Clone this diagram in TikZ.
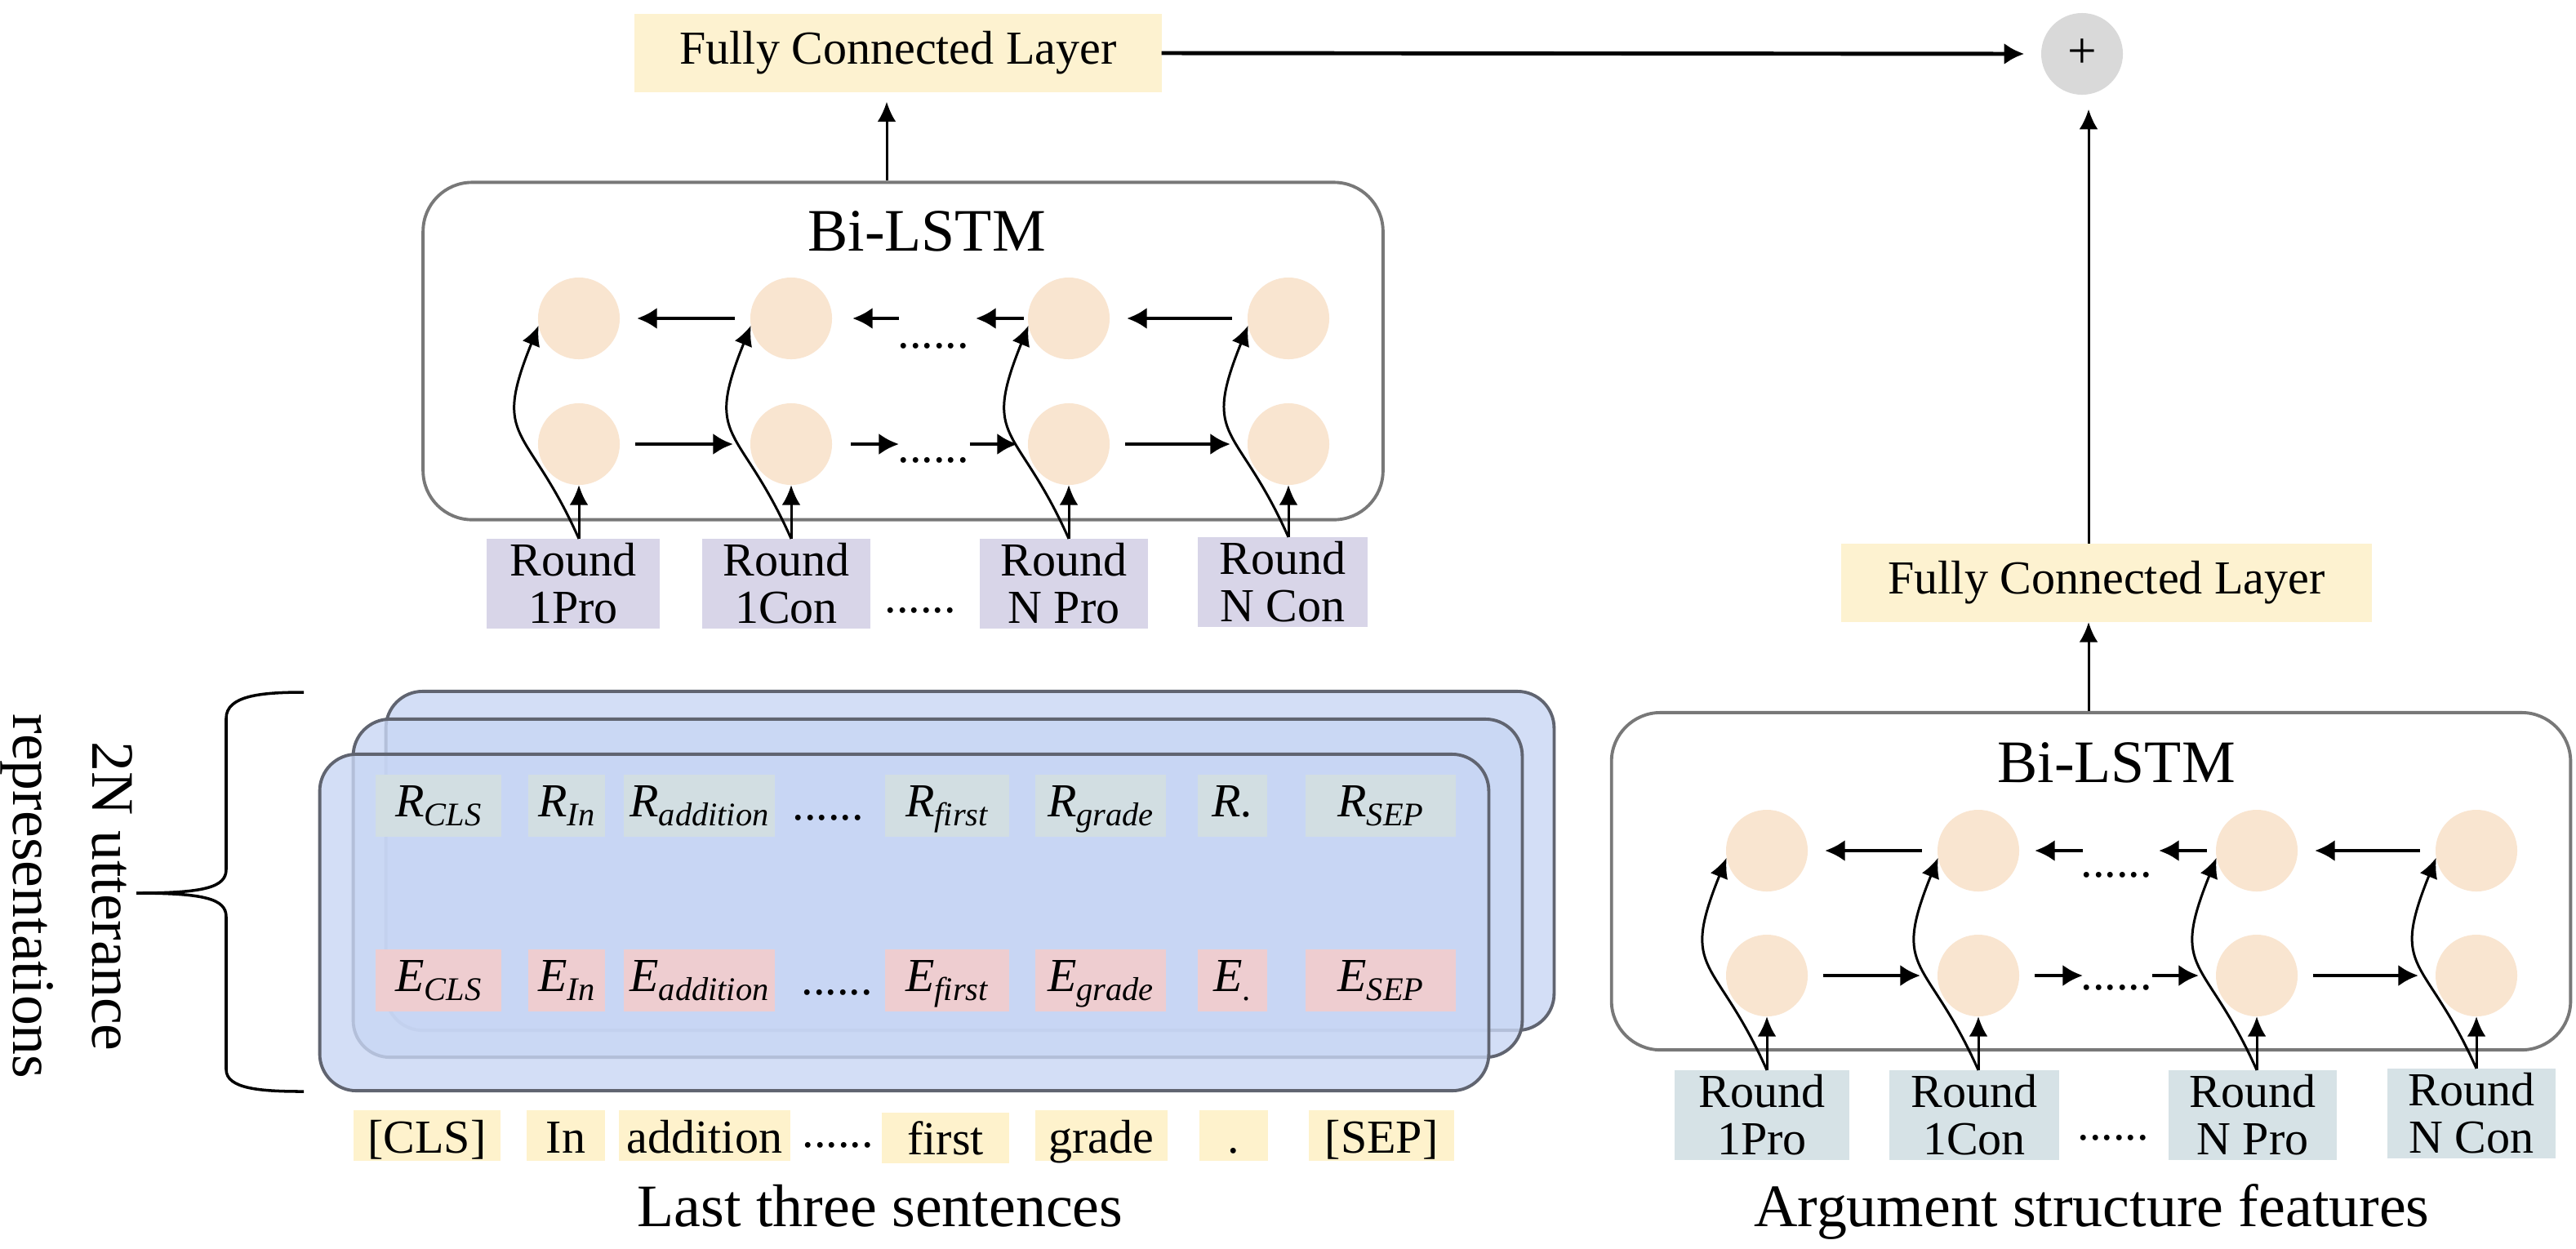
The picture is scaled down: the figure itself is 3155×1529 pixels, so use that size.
\documentclass[tikz,border=0pt]{standalone}
\usepackage{fontspec}
\setmainfont{Liberation Serif}
\usetikzlibrary{arrows.meta}
\definecolor{fcy}{RGB}{253,242,208}
\definecolor{wordy}{RGB}{254,242,204}
\definecolor{lav}{RGB}{216,213,232}
\definecolor{bluegr}{RGB}{214,226,230}
\definecolor{rbox}{RGB}{210,222,226}
\definecolor{ebox}{RGB}{238,205,208}
\definecolor{cellc}{RGB}{249,229,208}
\definecolor{plusc}{RGB}{217,217,217}
\definecolor{lstmb}{RGB}{120,120,120}
\definecolor{blueb}{RGB}{96,100,112}
\definecolor{bluef}{RGB}{200,214,244}
\newcommand{\tokn}[2]{\textit{#1}\raisebox{-3.3pt}{\fontsize{11.5}{11.5}\selectfont\textit{#2}}}
\begin{document}
\begin{tikzpicture}[x=0.01cm,y=-0.01cm,
  txt/.style={font=\fontsize{16.5}{16.5}\selectfont},
  big/.style={font=\fontsize{21}{27.6}\selectfont},
  box/.style={txt, inner sep=0pt, outer sep=0pt, align=center},
  tokbox/.style={inner sep=0pt, outer sep=0pt, minimum height=0.76cm, text height=9pt, text depth=1.6pt, font=\fontsize{16.5}{16.5}\selectfont},
  wordbox/.style={inner sep=0pt, outer sep=0pt, minimum height=0.62cm, text height=13pt, text depth=1pt, fill=wordy, font=\fontsize{16.5}{16.5}\selectfont},
  cell/.style={circle, fill=cellc, minimum size=1cm, inner sep=0pt, outer sep=0pt},
  lstm/.style={draw=lstmb, line width=1.1pt, rounded corners=0.6cm, fill=white},
  bluerect/.style={draw=blueb, line width=1.1pt, fill=bluef, fill opacity=0.8, rounded corners=0.45cm},
  thickarr/.style={line width=1.3pt, -{Latex[length=7pt,width=7.5pt]}},
  thinarr/.style={line width=0.85pt, -{Latex[length=7pt,width=6.5pt]}},
  hz/.style={thickarr, shorten <=0.19cm, shorten >=0.21cm},
]
\useasboundingbox (0,0) rectangle (3155,1529);

% ---------- top: FC + plus ----------
\node[box, fill=fcy, minimum width=6.45cm, minimum height=0.95cm] (fcL) at (1100,65) {Fully Connected Layer};
\node[circle, fill=plusc, minimum size=1cm, inner sep=0pt, font=\fontsize{18}{18}\selectfont] (plus) at (2550,66) {+};
\draw[thickarr, line width=1.4pt, shorten >=0.2cm] (fcL.east) -- (plus.west);

% ---------- left Bi-LSTM ----------
\node[lstm, minimum width=11.75cm, minimum height=4.13cm] (lstmL) at (1106,430) {};
\node[big, anchor=base] (titleL) at (1135,307) {Bi-LSTM};
\foreach \n/\x in {1/709,2/969,3/1309,4/1578} {
  \node[cell] (tL\n) at (\x,390) {};
  \node[cell] (bL\n) at (\x,544) {};
}
\node[box, fill=lav, minimum width=2.12cm, minimum height=1.1cm] (iL1) at (702,715) {Round\\1Pro};
\node[box, fill=lav, minimum width=2.06cm, minimum height=1.1cm] (iL2) at (963,715) {Round\\1Con};
\node[box, fill=lav, minimum width=2.06cm, minimum height=1.1cm] (iL3) at (1303,715) {Round\\N Pro};
\node[box, fill=lav, minimum width=2.08cm, minimum height=1.1cm] (iL4) at (1571,713) {Round\\N Con};
\node[txt, anchor=base] (dIL) at (1127,750) {......};
\node[txt, anchor=base] (dTL) at (1143,426) {......};
\node[txt, anchor=base] (dBL) at (1143,566) {......};
\coordinate (aTL2) at (1101,390);
\coordinate (aTL3) at (1195,390);
\coordinate (aBL2) at (1101,544);
\coordinate (aBL3) at (1188,544);
\draw[hz] (tL2) -- (tL1);
\draw[hz] (tL4) -- (tL3);
\draw[thickarr, shorten >=0.25cm] (aTL2) -- (tL2);
\draw[thickarr, shorten <=0.05cm] (tL3) -- (aTL3);
\draw[hz] (bL1) -- (bL2);
\draw[hz] (bL3) -- (bL4);
\draw[thickarr, shorten <=0.23cm] (bL2) -- (aBL2);
\draw[thickarr, shorten >=0.13cm] (aBL3) -- (bL3);
\foreach \n in {1,...,4} {
  \draw[thinarr] (iL\n.north -| bL\n) -- (bL\n);
  \draw[thinarr] (iL\n.north -| bL\n) to[out=114,in=-112,looseness=1.5] (tL\n.190);
}
\coordinate (aL) at (1086,0);
\draw[thinarr, shorten >=0.12cm] (lstmL.north -| aL) -- (fcL.south -| aL);

% ---------- right Bi-LSTM ----------
\node[box, fill=fcy, minimum width=6.49cm, minimum height=0.96cm] (fcR) at (2580,714) {Fully Connected Layer};
\node[lstm, minimum width=11.74cm, minimum height=4.13cm] (lstmR) at (2561,1079.5) {};
\node[big, anchor=base] (titleR) at (2592,958) {Bi-LSTM};
\foreach \n/\x in {1/2164,2/2423,3/2764,4/3033} {
  \node[cell] (tR\n) at (\x,1042) {};
  \node[cell] (bR\n) at (\x,1195) {};
}
\node[box, fill=bluegr, minimum width=2.14cm, minimum height=1.1cm] (iR1) at (2158,1366) {Round\\1Pro};
\node[box, fill=bluegr, minimum width=2.07cm, minimum height=1.1cm] (iR2) at (2418,1366) {Round\\1Con};
\node[box, fill=bluegr, minimum width=2.06cm, minimum height=1.1cm] (iR3) at (2759,1366) {Round\\N Pro};
\node[box, fill=bluegr, minimum width=2.06cm, minimum height=1.1cm] (iR4) at (3027,1364) {Round\\N Con};
\node[txt, anchor=base] (dIR) at (2588,1396) {......};
\node[txt, anchor=base] (dTR) at (2592,1074) {......};
\node[txt, anchor=base] (dBR) at (2592,1212) {......};
\coordinate (aTR2) at (2551,1042);
\coordinate (aTR3) at (2644,1042);
\coordinate (aBR2) at (2551,1195);
\coordinate (aBR3) at (2636,1195);
\draw[hz] (tR2) -- (tR1);
\draw[hz] (tR4) -- (tR3);
\draw[thickarr, shorten >=0.19cm] (aTR2) -- (tR2);
\draw[thickarr, shorten <=0.11cm] (tR3) -- (aTR3);
\draw[hz] (bR1) -- (bR2);
\draw[hz] (bR3) -- (bR4);
\draw[thickarr, shorten <=0.19cm] (bR2) -- (aBR2);
\draw[thickarr, shorten >=0.21cm] (aBR3) -- (bR3);
\foreach \n in {1,...,4} {
  \draw[thinarr] (iR\n.north -| bR\n) -- (bR\n);
  \draw[thinarr] (iR\n.north -| bR\n) to[out=114,in=-112,looseness=1.5] (tR\n.190);
}
\coordinate (aR) at (2558,0);
\draw[thinarr] (lstmR.north -| aR) -- (fcR.south -| aR);
\draw[thinarr, shorten >=0.17cm] (fcR.north -| aR) -- (plus.south -| aR);

% ---------- bottom left: stacked representations ----------
\node[bluerect, minimum width=14.30cm, minimum height=4.15cm] (repB) at (1188,1054.5) {};
\node[bluerect, minimum width=14.31cm, minimum height=4.14cm] (repM) at (1148.5,1088) {};
\node[bluerect, minimum width=14.31cm, minimum height=4.12cm] (repF) at (1107.5,1130) {};

\foreach \nm/\x/\w/\s in {cls/537/1.54cm/CLS, in/694/0.94cm/In, add/856.5/1.85cm/addition, fir/1160/1.52cm/first, gra/1348/1.60cm/grade, sep/1691/1.84cm/SEP} {
  \node[tokbox, fill=rbox, minimum width=\w] (R\nm) at (\x,987) {\tokn{R}{\s}};
  \node[tokbox, fill=ebox, minimum width=\w] (E\nm) at (\x,1201) {\tokn{E}{\s}};
}
\node[tokbox, fill=rbox, minimum width=0.85cm] (Rdot) at (1509.5,987) {\textit{R.}};
\node[tokbox, fill=ebox, minimum width=0.85cm] (Edot) at (1509.5,1201) {\tokn{E}{.}};
\node[txt, anchor=base] (dR) at (1014,1004) {......};
\node[txt, anchor=base] (dE) at (1025,1218) {......};

% words
\node[wordbox, minimum width=1.79cm] (wcls) at (523,1391) {[CLS]};
\node[wordbox, minimum width=0.95cm] (win) at (693,1391) {In};
\node[wordbox, minimum width=2.09cm] (wadd) at (863,1391) {addition};
\node[wordbox, minimum width=1.55cm] (wfir) at (1158,1393.5) {first};
\node[wordbox, minimum width=1.62cm] (wgra) at (1349,1391) {grade};
\node[wordbox, minimum width=0.83cm] (wdot) at (1511,1391) {.};
\node[wordbox, minimum width=1.78cm] (wsep) at (1692,1391) {[SEP]};
\node[txt, anchor=base] (dW) at (1026,1405) {......};

\node[big, anchor=base] (capL) at (1078,1502) {Last three sentences};
\node[big, anchor=base] (capR) at (2562,1502) {Argument structure features};

% brace + label
\draw[line width=1pt] (372,848) .. controls (320,848) and (277,852) .. (277,880) -- (277,1065)
  .. controls (277,1087) and (250,1094) .. (167,1094);
\draw[line width=1pt] (167,1094) .. controls (250,1094) and (277,1101) .. (277,1123) -- (277,1310)
  .. controls (277,1334) and (320,1337) .. (372,1337);
\node[big, rotate=-90, align=center] (lblRep) at (82,1098) {2N utterance\\representations};
\end{tikzpicture}
\end{document}
